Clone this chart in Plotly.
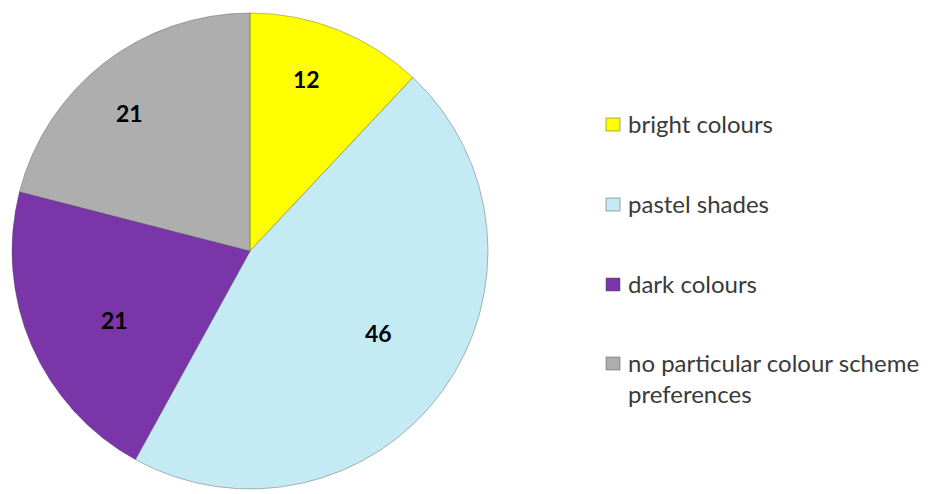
import math
import plotly.graph_objects as go

# Colour-scheme preferences (percent of respondents)
categories = ["bright colours", "pastel shades", "dark colours",
              "no particular colour scheme<br>preferences"]
values = [12, 46, 21, 21]
colors = ["#FFFF00", "#C4EAF4", "#7A35A9", "#AEAEAE"]

W, H = 932, 494
cx, cy, R = 250, 251, 238  # pie centre and radius in pixels

fig = go.Figure(go.Pie(
    labels=categories,
    values=values,
    sort=False,
    direction="clockwise",
    rotation=0,
    marker=dict(colors=colors, line=dict(color="rgba(60,60,60,0.35)", width=1)),
    textinfo="none",
    hoverinfo="label+value",
    showlegend=False,
    domain=dict(x=[(cx - R) / W, (cx + R) / W], y=[1 - (cy + R) / H, 1 - (cy - R) / H]),
))

# Value labels placed along each slice's mid-angle (slightly counter-clockwise)
label_radius = [0.76, 0.64, 0.64, 0.77]  # fraction of the pie radius
total = sum(values)
cum = 0
for v, rf in zip(values, label_radius):
    mid = (cum + v / 2) / total * 2 * math.pi - math.radians(3.5)
    cum += v
    r = rf * R
    px = cx + r * math.sin(mid)
    py = cy - r * math.cos(mid)
    fig.add_annotation(x=px / W, y=1 - py / H, xref="paper", yref="paper",
                       xanchor="center", yanchor="middle",
                       text=f"<b>{v}</b>", showarrow=False,
                       font=dict(family="Lato", size=23, color="#000000"))

# Legend: swatch plus label per category
legend_y = [124, 204, 284, 363]
for lab, col, ly in zip(categories, colors, legend_y):
    fig.add_shape(type="rect", xref="paper", yref="paper",
                  x0=606 / W, x1=620 / W, y0=1 - (ly + 7) / H, y1=1 - (ly - 6) / H,
                  fillcolor=col, line=dict(color="rgba(80,80,80,0.5)", width=1))
    fig.add_annotation(x=626 / W, y=1 - (ly - 17) / H, xref="paper", yref="paper",
                       text=lab, showarrow=False, xanchor="left", yanchor="top",
                       align="left",
                       font=dict(family="Lato", size=24, color="#3a3a3a"))

fig.update_layout(
    width=W, height=H,
    margin=dict(l=0, r=0, t=0, b=0),
    paper_bgcolor="white",
    plot_bgcolor="white",
)

fig.write_html("out.html")
